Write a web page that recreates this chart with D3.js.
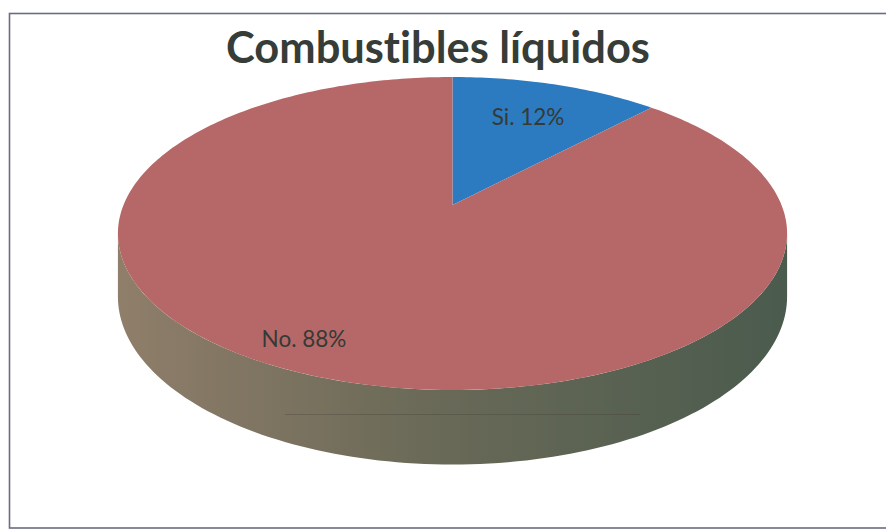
<!DOCTYPE html>
<html><head><meta charset="utf-8">
<script src="https://cdn.jsdelivr.net/npm/d3@7"></script>
<style>html,body{margin:0;padding:0;background:#fff;}svg{display:block;}text{font-variant-ligatures:none;}</style>
</head><body><svg id="c" width="886" height="530"></svg>
<script>
const title = "Combustibles líquidos";
const categories = ["Si", "No"];
const values = [12, 88];
const colors = ["#2c7bc0", "#b66868"];

const svg = d3.select("#c");
// frame
svg.append("rect").attr("x", 9.5).attr("y", 13.5).attr("width", 900).attr("height", 514.5)
  .attr("fill", "none").attr("stroke", "#6b6b82").attr("stroke-width", 1.6);

// title
const t = svg.append("text").attr("x", 438).attr("y", 63).attr("text-anchor", "middle")
  .attr("font-family", "Lato, 'Open Sans', sans-serif").attr("font-weight", "bold")
  .attr("font-size", 38).attr("fill", "#363c37").text(title);
const tw = t.node().getComputedTextLength();
t.attr("font-size", 38 * 424 / tw);

// perspective projection of disk
const cx = 452.5, cy = 205, A = 329, B = 151.3, k = 0.182, D = 61;
function proj(phi, down) { // phi clockwise from far point
  const u = Math.sin(phi), v = Math.cos(phi), w = 1 + k * v;
  return [cx + A * u / w, cy - B * v / w + (down ? D / w : 0)];
}

const defs = svg.append("defs");
const g = defs.append("linearGradient").attr("id", "side").attr("x1", "0").attr("x2", "1").attr("y1", "0").attr("y2", "0");
g.append("stop").attr("offset", "0").attr("stop-color", "#8f7e6a");
g.append("stop").attr("offset", "0.45").attr("stop-color", "#6b6a58");
g.append("stop").attr("offset", "1").attr("stop-color", "#4a5b4d");

// side (front half)
const a0 = Math.PI / 2 + Math.asin(k), a1 = 3 * Math.PI / 2 - Math.asin(k);
const N = 120;
const topArc = d3.range(N + 1).map(i => proj(a0 + (a1 - a0) * i / N, false));
const botArc = d3.range(N + 1).map(i => proj(a1 - (a1 - a0) * i / N, true));
svg.append("path").attr("d", d3.line()(topArc.concat(botArc)) + "Z").attr("fill", "url(#side)");
svg.append("line").attr("x1", 285).attr("x2", 640).attr("y1", 414.5).attr("y2", 414.5)
  .attr("stroke", "#3e3c32").attr("stroke-opacity", 0.3).attr("stroke-width", 1);

// top slices
const arcs = d3.pie().sort(null).value(d => d)(values);
arcs.forEach((a, i) => {
  const n = Math.max(8, Math.round((a.endAngle - a.startAngle) * 60));
  const pts = [[cx, cy]].concat(d3.range(n + 1).map(j => proj(a.startAngle + (a.endAngle - a.startAngle) * j / n, false)));
  svg.append("path").attr("d", d3.line()(pts) + "Z").attr("fill", colors[i]);
});

// labels
const labelPos = [[528, 117], [304, 339]];
arcs.forEach((a, i) => {
  const pct = Math.round(100 * values[i] / d3.sum(values));
  svg.append("text").attr("x", labelPos[i][0]).attr("y", labelPos[i][1]).attr("dy", "0.35em")
    .attr("text-anchor", "middle").attr("font-family", "Lato, 'Open Sans', sans-serif")
    .attr("font-size", 22.5).attr("fill", "#353a36").text(categories[i] + ". " + pct + "%");
});
</script></body></html>
